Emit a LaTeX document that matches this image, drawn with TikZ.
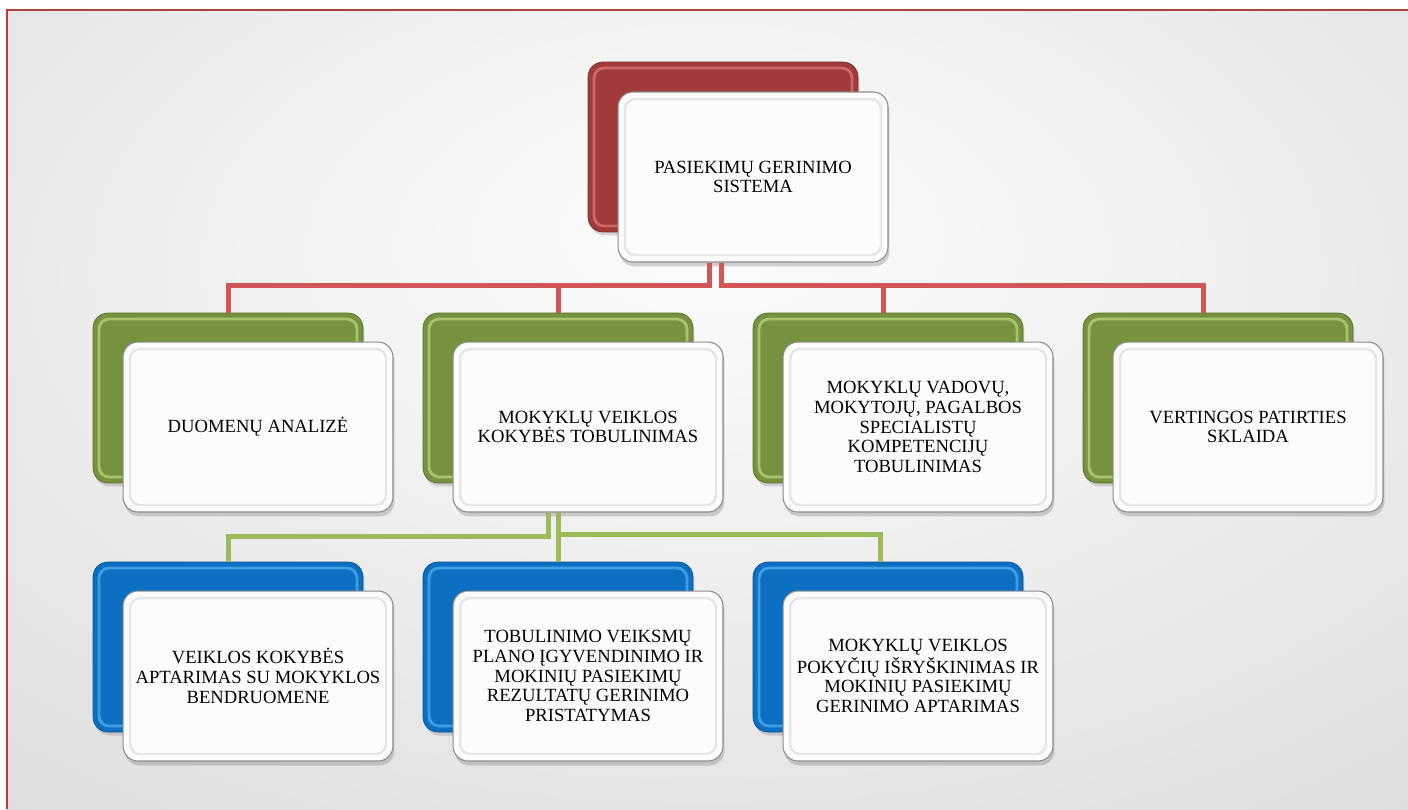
\documentclass[tikz,border=0pt]{standalone}
\usepackage{fontspec}
\setmainfont{Liberation Serif}
\usepackage{tikz}
\usetikzlibrary{calc,shadows}

\definecolor{bgin}{HTML}{FCFCFC}
\definecolor{bgmid}{HTML}{F2F2F2}
\definecolor{bgmidd}{HTML}{DADADA}
\definecolor{bgout}{HTML}{C2C2C2}
\definecolor{framered}{HTML}{B0403E}
\definecolor{topred}{HTML}{A13A38}
\definecolor{topredhi}{HTML}{E98886}
\definecolor{leafgreen}{HTML}{76923C}
\definecolor{leafgreenhi}{HTML}{C9E393}
\definecolor{leafblue}{HTML}{0C6FC2}
\definecolor{leafbluehi}{HTML}{63BDF3}
\definecolor{linered}{HTML}{D05755}
\definecolor{linegreen}{HTML}{9BBB59}
\definecolor{frontfill}{HTML}{FCFCFC}
\definecolor{frontedge}{HTML}{8C8C8C}
\definecolor{frontbevel}{HTML}{E6E6E6}

\pgfdeclareradialshading{bgshade}{\pgfpoint{0bp}{12bp}}{color(0bp)=(bgin); color(15bp)=(bgmid); color(45bp)=(bgmidd); color(80bp)=(bgout)}

\begin{document}
\begin{tikzpicture}[x=0.02cm, y=-0.02cm,
    rearbox/.style 2 args={rectangle, rounded corners=0.3cm,
      minimum width=5.4cm, minimum height=3.4cm,
      fill=#1, draw=#1!75!black, line width=0.4pt,
      drop shadow={shadow xshift=0.03cm, shadow yshift=-0.07cm, opacity=0.3},
      path picture={\draw[#2, line width=1.6pt, rounded corners=0.2cm, opacity=0.6]
        ([shift={(0.12cm,-0.12cm)}]path picture bounding box.north west) rectangle
        ([shift={(-0.12cm,0.12cm)}]path picture bounding box.south east);}},
    frontbox/.style={rectangle, rounded corners=0.3cm,
      minimum width=5.4cm, minimum height=3.4cm, inner sep=0pt,
      fill=frontfill, draw=frontedge, line width=0.6pt, align=center,
      font=\fontsize{10.6}{11.2}\selectfont,
      drop shadow={shadow xshift=0.03cm, shadow yshift=-0.09cm, opacity=0.35},
      path picture={\draw[frontbevel, line width=1.4pt, rounded corners=0.2cm]
        ([shift={(0.14cm,-0.14cm)}]path picture bounding box.north west) rectangle
        ([shift={(-0.14cm,0.14cm)}]path picture bounding box.south east);}},
    redline/.style={linered, line width=0.1cm},
    greenline/.style={linegreen, line width=0.1cm}]

  \useasboundingbox (0,0) rectangle (1408,809);

  % background and frame
  \shade[shading=bgshade] (7,10) rectangle (1408,809);
  \draw[framered, line width=0.05cm] (7,809) -- (7,10) -- (1408,10);

  % top
  \node[rearbox={topred}{topredhi}] (topb) at (723,147) {};
  \node[frontbox] (topf) at (753,177) {PASIEKIMŲ GERINIMO\\SISTEMA};

  % second row
  \node[rearbox={leafgreen}{leafgreenhi}] (g1b) at (228,398) {};
  \node[frontbox] (g1f) at (258,427) {DUOMENŲ ANALIZĖ};
  \node[rearbox={leafgreen}{leafgreenhi}] (g2b) at (558,398) {};
  \node[frontbox] (g2f) at (588,427) {MOKYKLŲ VEIKLOS\\KOKYBĖS TOBULINIMAS};
  \node[rearbox={leafgreen}{leafgreenhi}] (g3b) at (888,398) {};
  \node[frontbox] (g3f) at (918,427) {MOKYKLŲ VADOVŲ,\\MOKYTOJŲ, PAGALBOS\\SPECIALISTŲ\\KOMPETENCIJŲ\\TOBULINIMAS};
  \node[rearbox={leafgreen}{leafgreenhi}] (g4b) at (1218,398) {};
  \node[frontbox] (g4f) at (1248,427) {VERTINGOS PATIRTIES\\SKLAIDA};

  % third row
  \node[rearbox={leafblue}{leafbluehi}] (b1b) at (228,647) {};
  \node[frontbox] (b1f) at (258,676) {VEIKLOS KOKYBĖS\\APTARIMAS SU MOKYKLOS\\BENDRUOMENE};
  \node[rearbox={leafblue}{leafbluehi}] (b2b) at (558,647) {};
  \node[frontbox] (b2f) at (588,676) {TOBULINIMO VEIKSMŲ\\PLANO ĮGYVENDINIMO IR\\MOKINIŲ PASIEKIMŲ\\REZULTATŲ GERINIMO\\PRISTATYMAS};
  \node[rearbox={leafblue}{leafbluehi}] (b3b) at (888,647) {};
  \node[frontbox] (b3f) at (918,676) {MOKYKLŲ VEIKLOS\\POKYČIŲ IŠRYŠKINIMAS IR\\MOKINIŲ PASIEKIMŲ\\GERINIMO APTARIMAS};

  % red connectors
  \draw[redline] ([xshift=-0.88cm]topf.south) -- ++(0,23) -| (g1b.north);
  \draw[redline] ([xshift=-0.64cm]topf.south) -- ++(0,23) -| ([xshift=-0.3cm]g4b.north);
  \draw[redline] (g2b.north) -- ++(0,-28);
  \draw[redline] ([xshift=-0.1cm]g3b.north) -- ++(0,-28);

  % green connectors
  \draw[greenline] ([xshift=-0.8cm]g2f.south) -- ++(0,24) -| (b1b.north);
  \draw[greenline] (b2b.north) -- (b2b.north |- g2f.south);
  \draw[greenline] (b2b.north) ++(0,-27) -| ([xshift=-0.16cm]b3b.north);

\end{tikzpicture}
\end{document}
